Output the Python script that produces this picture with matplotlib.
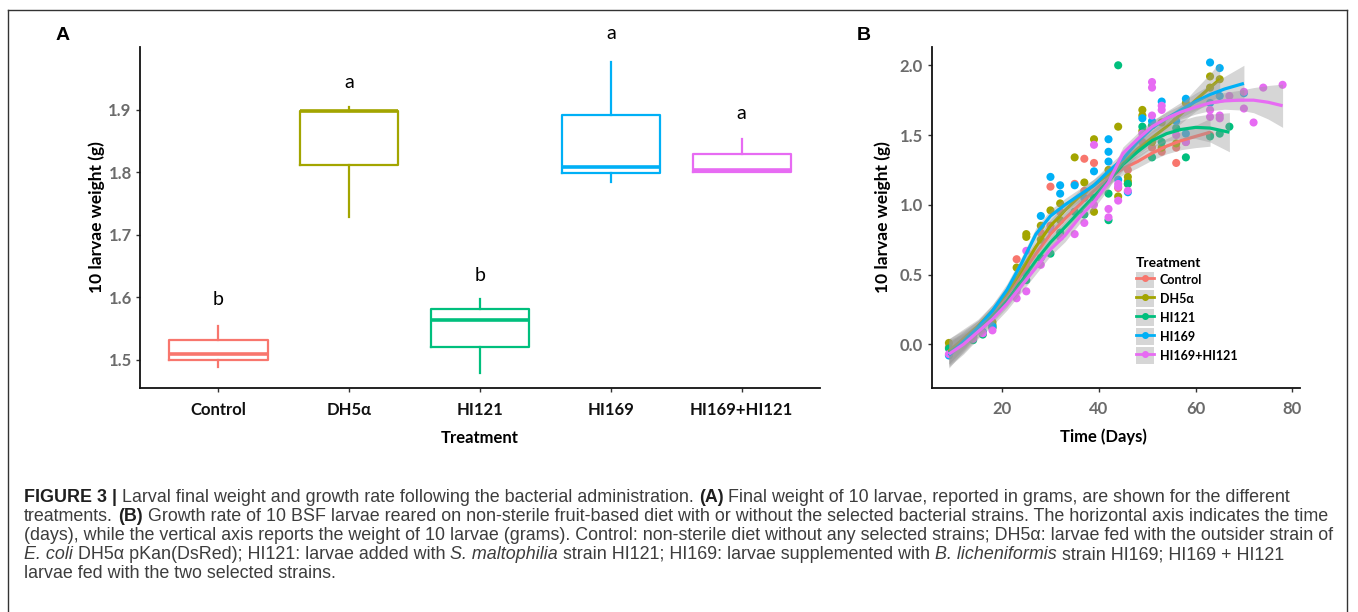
import matplotlib
matplotlib.use('Agg')
import matplotlib.pyplot as plt
from matplotlib.lines import Line2D
from matplotlib.patches import Patch

W, H = 1358, 612

treatments = ['Control', 'DH5α', 'HI121', 'HI169', 'HI169+HI121']
colors = ['#F8766D', '#A3A500', '#00BF7D', '#00B0F6', '#E76BF3']

# ---- panel A : final weight boxplots (g) ----
whislo = [1.489, 1.728, 1.479, 1.785, 1.801]
q1 = [1.499, 1.812, 1.521, 1.798, 1.801]
med = [1.510, 1.898, 1.564, 1.808, 1.803]
q3 = [1.532, 1.898, 1.581, 1.892, 1.829]
whishi = [1.554, 1.904, 1.598, 1.976, 1.853]
letters = ['b', 'a', 'b', 'a', 'a']
letter_y = [1.597, 1.943, 1.635, 2.021, 1.893]

# ---- panel B : growth points (days, g) ----
ctrl_days = [9, 14, 16, 18, 23, 23, 25, 28, 30, 30, 32, 35, 37, 37, 39, 42, 44, 46, 49, 51, 53, 56, 56, 58, 63]
ctrl_w = [-0.02, 0.05, 0.08, 0.12, 0.61, 0.45, 0.55, 0.80, 1.13, 0.85, 0.95, 1.15, 1.33, 1.10, 1.30, 1.20,
          1.12, 1.25, 1.45, 1.41, 1.38, 1.30, 1.41, 1.45, 1.50]
dh5_days = [9, 14, 16, 18, 18, 23, 25, 25, 28, 28, 30, 32, 32, 35, 37, 39, 39, 42, 44, 44, 46, 46, 46,
            49, 49, 49, 51, 53, 53, 56, 58, 63, 63, 65]
dh5_w = [0.01, 0.05, 0.08, 0.14, 0.16, 0.55, 0.79, 0.77, 0.85, 0.75, 0.96, 1.01, 0.89, 1.34, 1.16, 1.47, 0.95,
         1.25, 1.56, 1.06, 1.20, 1.17, 1.15, 1.68, 1.64, 1.53, 1.45, 1.59, 1.41, 1.44, 1.73, 1.92, 1.84, 1.90]
hi121_days = [9, 14, 16, 18, 23, 25, 28, 30, 32, 35, 37, 39, 42, 42, 44, 46, 49, 51, 51, 53, 56, 58, 63, 65, 67]
hi121_w = [-0.03, 0.03, 0.07, 0.12, 0.42, 0.46, 0.62, 0.65, 0.80, 0.95, 0.93, 1.05, 1.08, 0.89, 2.00, 1.15,
           1.56, 1.57, 1.34, 1.45, 1.55, 1.34, 1.49, 1.51, 1.56]
hi169_days = [9, 14, 16, 18, 23, 25, 28, 30, 32, 32, 35, 37, 39, 42, 42, 42, 44, 46, 49, 51, 53, 56, 58, 58,
              63, 63, 65, 65, 70]
hi169_w = [-0.08, 0.05, 0.09, 0.13, 0.40, 0.50, 0.92, 1.20, 1.14, 1.08, 1.14, 1.05, 1.24, 1.47, 1.38, 1.31,
           1.18, 1.09, 1.62, 1.60, 1.74, 1.60, 1.76, 1.51, 2.02, 1.73, 1.98, 1.78, 1.80]
mix_days = [9, 14, 16, 18, 23, 23, 25, 25, 28, 30, 32, 35, 37, 39, 39, 42, 42, 44, 44, 44, 46, 49, 51, 51, 51,
            53, 53, 56, 58, 63, 63, 65, 65, 67, 70, 70, 72, 74, 78]
mix_w = [-0.07, 0.04, 0.08, 0.10, 0.33, 0.38, 0.67, 0.38, 0.57, 0.82, 0.77, 0.79, 0.87, 1.43, 1.00, 0.97, 0.91,
         1.15, 1.13, 1.03, 1.10, 1.51, 1.88, 1.84, 1.64, 1.71, 1.68, 1.50, 1.45, 1.68, 1.63, 1.64, 1.62, 1.78,
         1.81, 1.69, 1.59, 1.84, 1.86]

# ---- panel B : loess curves and band half-widths ----
ctrl_fit_days = [9, 12, 15, 18, 21, 24, 27, 30, 33, 36, 39, 42, 45, 48, 51, 54, 57, 60, 63]
ctrl_fit = [-0.05, 0.03, 0.12, 0.22, 0.35, 0.50, 0.65, 0.79, 0.90, 1.00, 1.10, 1.19, 1.26, 1.31, 1.37, 1.42,
            1.46, 1.49, 1.52]
ctrl_se = [0.09, 0.07, 0.05, 0.045, 0.045, 0.045, 0.045, 0.045, 0.045, 0.045, 0.045, 0.045, 0.045, 0.045,
           0.05, 0.055, 0.065, 0.08, 0.10]
dh5_fit_days = [9, 12, 15, 18, 21, 24, 27, 30, 33, 36, 39, 42, 45, 48, 51, 54, 57, 60, 63, 65]
dh5_fit = [-0.05, 0.04, 0.13, 0.24, 0.37, 0.53, 0.70, 0.85, 0.96, 1.06, 1.14, 1.22, 1.30, 1.40, 1.48, 1.56,
           1.65, 1.75, 1.84, 1.90]
dh5_se = [0.09, 0.07, 0.05, 0.045, 0.045, 0.045, 0.045, 0.045, 0.045, 0.045, 0.045, 0.045, 0.045, 0.045,
          0.05, 0.055, 0.065, 0.08, 0.10, 0.12]
hi121_fit_days = [9, 12, 15, 18, 21, 24, 27, 30, 33, 36, 39, 42, 45, 48, 51, 54, 57, 60, 63, 67]
hi121_fit = [-0.06, 0.01, 0.10, 0.20, 0.31, 0.45, 0.60, 0.73, 0.84, 0.95, 1.06, 1.17, 1.29, 1.38, 1.46, 1.51,
             1.54, 1.555, 1.55, 1.52]
hi121_se = [0.09, 0.07, 0.05, 0.045, 0.045, 0.045, 0.045, 0.045, 0.045, 0.045, 0.045, 0.045, 0.045, 0.045,
            0.05, 0.055, 0.065, 0.08, 0.10, 0.14]
hi169_fit_days = [9, 12, 15, 18, 21, 24, 27, 30, 33, 36, 39, 42, 45, 48, 51, 54, 57, 60, 63, 66, 70]
hi169_fit = [-0.08, 0.02, 0.12, 0.24, 0.39, 0.58, 0.79, 0.92, 1.00, 1.07, 1.14, 1.24, 1.33, 1.45, 1.55, 1.62,
             1.68, 1.74, 1.79, 1.83, 1.87]
hi169_se = [0.09, 0.07, 0.05, 0.045, 0.045, 0.045, 0.045, 0.045, 0.045, 0.045, 0.045, 0.045, 0.045, 0.045,
            0.045, 0.05, 0.055, 0.06, 0.07, 0.09, 0.13]
mix_fit_days = [9, 12, 15, 18, 21, 24, 27, 30, 33, 36, 39, 42, 45, 48, 51, 54, 57, 60, 63, 66, 69, 72, 75, 78]
mix_fit = [-0.07, 0.00, 0.09, 0.18, 0.29, 0.42, 0.55, 0.68, 0.78, 0.91, 1.02, 1.16, 1.37, 1.47, 1.56, 1.62,
           1.665, 1.70, 1.73, 1.745, 1.75, 1.75, 1.735, 1.71]
mix_se = [0.09, 0.07, 0.05, 0.045, 0.045, 0.045, 0.045, 0.045, 0.045, 0.045, 0.045, 0.045, 0.045, 0.045,
          0.045, 0.045, 0.05, 0.05, 0.055, 0.06, 0.07, 0.09, 0.12, 0.155]

points = [(ctrl_days, ctrl_w), (dh5_days, dh5_w), (hi121_days, hi121_w), (hi169_days, hi169_w), (mix_days, mix_w)]
fits = [(ctrl_fit_days, ctrl_fit, ctrl_se), (dh5_fit_days, dh5_fit, dh5_se), (hi121_fit_days, hi121_fit, hi121_se),
        (hi169_fit_days, hi169_fit, hi169_se), (mix_fit_days, mix_fit, mix_se)]

caption = [
    [('FIGURE 3 |', 'bold', 'normal'), ('Larval final weight and growth rate following the bacterial administration.', 'normal', 'normal'),
     ('(A)', 'bold', 'normal'), ('Final weight of 10 larvae, reported in grams, are shown for the different', 'normal', 'normal')],
    [('treatments.', 'normal', 'normal'), ('(B)', 'bold', 'normal'),
     ('Growth rate of 10 BSF larvae reared on non-sterile fruit-based diet with or without the selected bacterial strains. The horizontal axis indicates the time', 'normal', 'normal')],
    [('(days), while the vertical axis reports the weight of 10 larvae (grams). Control: non-sterile diet without any selected strains; DH5α: larvae fed with the outsider strain of', 'normal', 'normal')],
    [('E. coli', 'normal', 'italic'), ('DH5α pKan(DsRed); HI121: larvae added with', 'normal', 'normal'), ('S. maltophilia', 'normal', 'italic'),
     ('strain HI121; HI169: larvae supplemented with', 'normal', 'normal'), ('B. licheniformis', 'normal', 'italic'),
     ('strain HI169; HI169 + HI121', 'normal', 'normal')],
    [('larvae fed with the two selected strains.', 'normal', 'normal')],
]


def fx(px):
    return px / W


def fy(py):
    return 1 - py / H


PF = 'Lato'
fig = plt.figure(figsize=(W / 100, H / 100), dpi=100)

# outer frame (open at the bottom, cropped)
for xs, ys in [((8, 8), (10, 612)), ((8, 1347), (10, 10)), ((1347, 1347), (10, 612))]:
    fig.add_artist(Line2D([fx(x) for x in xs], [fy(y) for y in ys], color='#333333', lw=1.0))

# ================= panel A =================
axA = fig.add_axes([fx(140), fy(388), (820 - 140) / W, (388 - 47) / H])
pos = list(range(1, len(treatments) + 1))
stats = []
for i in range(len(treatments)):
    stats.append(dict(whislo=whislo[i], q1=q1[i], med=med[i], q3=q3[i], whishi=whishi[i], fliers=[]))
bp = axA.bxp(stats, positions=pos, widths=0.75, showfliers=False, showcaps=False, patch_artist=False)
for i, c in enumerate(colors):
    bp['boxes'][i].set(color=c, lw=1.6)
    bp['medians'][i].set(color=c, lw=2.6, solid_capstyle='butt')
    bp['whiskers'][2 * i].set(color=c, lw=1.6)
    bp['whiskers'][2 * i + 1].set(color=c, lw=1.6)
for i, l in enumerate(letters):
    axA.text(pos[i], letter_y[i], l, ha='center', va='center', fontsize=14, family=PF, clip_on=False)

axA.set_xlim(0.4, 5.6)
axA.set_ylim(1.455, 2.0)
axA.set_yticks([1.5, 1.6, 1.7, 1.8, 1.9])
axA.set_yticklabels(['1.5', '1.6', '1.7', '1.8', '1.9'])
axA.set_xticks(pos)
axA.set_xticklabels(treatments)
for s in ['top', 'right']:
    axA.spines[s].set_visible(False)
for s in ['left', 'bottom']:
    axA.spines[s].set_linewidth(1.3)
    axA.spines[s].set_color('#111111')
axA.tick_params(axis='both', length=3, width=1, color='#333333')
for t in axA.get_yticklabels():
    t.set(fontsize=12, family=PF, weight='bold', color='#6b6b6b')
for t in axA.get_xticklabels():
    t.set(fontsize=12, family=PF, weight='bold', color='#111111')
axA.tick_params(axis='x', pad=7)
axA.tick_params(axis='y', pad=3)

fig.text(fx(97), fy(217), '10 larvae weight (g)', rotation=90, ha='center', va='center',
         fontsize=12.5, family=PF, weight='bold')
fig.text(fx(480), fy(438), 'Treatment', ha='center', va='center', fontsize=12, family=PF, weight='bold')
fig.text(fx(63), fy(35), 'A', ha='center', va='center', fontsize=14, family='Liberation Sans', weight='bold')

# ================= panel B =================
axB = fig.add_axes([fx(932), fy(388), (1300 - 932) / W, (388 - 47) / H])
for (d, w), c in zip(points, colors):
    axB.scatter(d, w, s=34, color=c, edgecolors='none', zorder=2)
for (d, f, se), c in zip(fits, colors):
    lo = [a - b for a, b in zip(f, se)]
    hi = [a + b for a, b in zip(f, se)]
    axB.fill_between(d, lo, hi, color='#999999', alpha=0.4, lw=0, zorder=3)
    axB.plot(d, f, color=c, lw=2.3, zorder=3, solid_capstyle='butt')

axB.set_xlim(5.5, 81.6)
axB.set_ylim(-0.313, 2.131)
axB.set_xticks([20, 40, 60, 80])
axB.set_yticks([0.0, 0.5, 1.0, 1.5, 2.0])
axB.set_yticklabels(['0.0', '0.5', '1.0', '1.5', '2.0'])
for s in ['top', 'right']:
    axB.spines[s].set_visible(False)
for s in ['left', 'bottom']:
    axB.spines[s].set_linewidth(1.3)
    axB.spines[s].set_color('#111111')
axB.tick_params(axis='both', length=3, width=1, color='#333333')
for t in axB.get_yticklabels() + axB.get_xticklabels():
    t.set(fontsize=12, family=PF, weight='bold', color='#6b6b6b')
axB.tick_params(axis='x', pad=6)

fig.text(fx(883), fy(217), '10 larvae weight (g)', rotation=90, ha='center', va='center',
         fontsize=12.5, family=PF, weight='bold')
fig.text(fx(1103), fy(437), 'Time (Days)', ha='center', va='center', fontsize=12, family=PF, weight='bold')
fig.text(fx(864), fy(36), 'B', ha='center', va='center', fontsize=14, family='Liberation Sans', weight='bold')

handles = [(Patch(facecolor='#D6D6D6', edgecolor='none'),
            Line2D([], [], color=c, lw=2, marker='o', ms=4)) for c in colors]
leg = axB.legend(handles, treatments, loc='upper left', bbox_to_anchor=(fx(1136), fy(257)),
                 bbox_transform=fig.transFigure, frameon=False, title='Treatment', alignment='left',
                 prop={'family': PF, 'weight': 'bold', 'size': 9}, handlelength=1.4, handleheight=1.65,
                 handletextpad=0.5, labelspacing=0.2, borderpad=0, borderaxespad=0)
leg.get_title().set(family=PF, weight='bold', size=10)

# ================= caption =================
r = fig.canvas.get_renderer()
CF, CS = 'Liberation Sans', 12.88


def text_w(s, weight='normal', style='normal'):
    t = fig.text(0, 0, s, fontsize=CS, family=CF, weight=weight, style=style)
    w = t.get_window_extent(r).width
    t.remove()
    return w


space = text_w('x x') - text_w('xx')
base_y = [502, 521, 540, 559, 578]
for line, by in zip(caption, base_y):
    x = 24
    for s, weight, style in line:
        col = '#1f1f1f' if weight == 'bold' else '#3d3d3d'
        t = fig.text(fx(x), fy(by), s, fontsize=CS, family=CF, weight=weight, style=style,
                     color=col, va='baseline')
        x = t.get_window_extent(r).x1 + space

fig.savefig('out.png', dpi=100)
